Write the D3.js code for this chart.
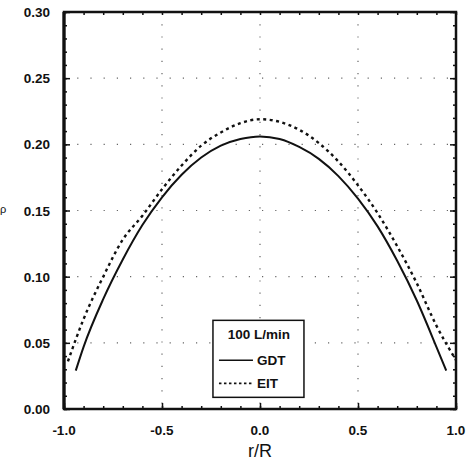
<!DOCTYPE html>
<meta charset="utf-8">
<head>
<style>
  body { margin: 0; background: #fff; }
  text { font-family: "Liberation Sans", Arial, sans-serif; fill: #111; }
  .tick-label { font-size: 13.5px; font-weight: bold; }
  .legend-text { font-size: 13.5px; font-weight: bold; }
</style>
</head>
<script src="https://d3js.org/d3.v7.min.js"></script>
<div id="chart"></div>
<script>
// tick values
var xTicks = [-1.0, -0.5, 0.0, 0.5, 1.0];
var yTicks = [0.00, 0.05, 0.10, 0.15, 0.20, 0.25, 0.30];

// GDT (solid)
var gdtR = [-0.94, -0.9, -0.8, -0.7, -0.6, -0.5, -0.4, -0.3, -0.2, -0.1, 0.0, 0.1, 0.2, 0.3, 0.4, 0.5, 0.6, 0.7, 0.8, 0.9, 0.95];
var gdtV = [0.029, 0.047, 0.083, 0.113, 0.139, 0.160, 0.177, 0.190, 0.199, 0.204, 0.206, 0.204, 0.198, 0.189, 0.176, 0.159, 0.138, 0.112, 0.082, 0.047, 0.029];

// EIT (dotted)
var eitR = [-0.98, -0.9, -0.8, -0.7, -0.6, -0.5, -0.4, -0.3, -0.2, -0.1, 0.0, 0.1, 0.2, 0.3, 0.4, 0.5, 0.6, 0.7, 0.8, 0.9, 1.0];
var eitV = [0.036, 0.068, 0.100, 0.128, 0.146, 0.166, 0.184, 0.199, 0.209, 0.216, 0.219, 0.217, 0.211, 0.201, 0.187, 0.169, 0.148, 0.123, 0.095, 0.063, 0.037];

var W = 472, H = 466;
var margin = {top: 12, right: 16, bottom: 57, left: 64};
var width = W - margin.left - margin.right,
    height = H - margin.top - margin.bottom;

var svg = d3.select("#chart").append("svg")
    .attr("width", W).attr("height", H)
  .append("g")
    .attr("transform", "translate(" + margin.left + "," + margin.top + ")");

var x = d3.scaleLinear().domain([-1, 1]).range([0, width]);
var y = d3.scaleLinear().domain([0, 0.30]).range([height, 0]);

// dotted grid at major ticks
svg.append("g").selectAll("line.gx")
  .data(xTicks.slice(1, -1)).enter().append("line")
    .attr("x1", d => x(d)).attr("x2", d => x(d))
    .attr("y1", 0).attr("y2", height)
    .attr("stroke", "#666").attr("stroke-width", 1.2)
    .attr("stroke-dasharray", "1.2,11");
svg.append("g").selectAll("line.gy")
  .data(yTicks.slice(1, -1)).enter().append("line")
    .attr("y1", d => y(d)).attr("y2", d => y(d))
    .attr("x1", 0).attr("x2", width)
    .attr("stroke", "#666").attr("stroke-width", 1.2)
    .attr("stroke-dasharray", "1.2,12");

// inward ticks on all four sides
var xMinor = d3.range(-1, 1.0001, 0.1);
var yMinor = d3.range(0, 0.3001, 0.01);
svg.append("g").attr("transform", "translate(0," + height + ")")
  .call(d3.axisBottom(x).tickValues(xMinor).tickSize(-3).tickFormat(""));
svg.append("g")
  .call(d3.axisTop(x).tickValues(xMinor).tickSize(-3).tickFormat(""));
svg.append("g")
  .call(d3.axisLeft(y).tickValues(yMinor).tickSize(-3).tickFormat(""));
svg.append("g").attr("transform", "translate(" + width + ",0)")
  .call(d3.axisRight(y).tickValues(yMinor).tickSize(-3).tickFormat(""));

svg.append("g").attr("transform", "translate(0," + height + ")")
  .call(d3.axisBottom(x).tickValues(xTicks).tickSize(-6).tickFormat(""));
svg.append("g")
  .call(d3.axisLeft(y).tickValues(yTicks).tickSize(-6).tickFormat(""));
svg.append("g").attr("transform", "translate(" + width + ",0)")
  .call(d3.axisRight(y).tickValues(yTicks).tickSize(-6).tickFormat(""));

svg.selectAll(".domain").remove();
svg.selectAll(".tick line").attr("stroke", "#111").attr("stroke-width", 1.5);

// frame
svg.append("rect")
  .attr("width", width).attr("height", height)
  .attr("fill", "none").attr("stroke", "#111").attr("stroke-width", 2.5);
svg.append("line")
  .attr("x1", 0).attr("x2", 0).attr("y1", 0).attr("y2", height)
  .attr("stroke", "#111").attr("stroke-width", 3.2);

// tick labels
svg.append("g").selectAll("text")
  .data(yTicks).enter().append("text")
    .attr("class", "tick-label")
    .attr("x", -14).attr("y", d => y(d) + 5)
    .attr("text-anchor", "end")
    .text(d => d.toFixed(2));
svg.append("g").selectAll("text")
  .data(xTicks).enter().append("text")
    .attr("class", "tick-label")
    .attr("x", d => x(d)).attr("y", height + 26)
    .attr("text-anchor", "middle")
    .text(d => d.toFixed(1));

// axis titles
svg.append("text")
  .attr("x", x(0)).attr("y", height + 48)
  .attr("text-anchor", "middle")
  .style("font-size", "18px")
  .text("r/R");
svg.append("text")
  .attr("x", -margin.left).attr("y", y(0.148))
  .style("font-size", "11px")
  .text("ρ");

// curves
var line = d3.line().curve(d3.curveMonotoneX);
svg.append("path")
  .attr("d", line(gdtR.map((r, i) => [x(r), y(gdtV[i])])))
  .attr("fill", "none").attr("stroke", "#111").attr("stroke-width", 2);
svg.append("path")
  .attr("d", line(eitR.map((r, i) => [x(r), y(eitV[i])])))
  .attr("fill", "none").attr("stroke", "#111").attr("stroke-width", 2.4)
  .attr("stroke-dasharray", "3,3.5");

// legend
var lg = svg.append("g").attr("transform", "translate(" + (x(-0.24)) + "," + y(0.067) + ")");
lg.append("rect").attr("width", 91).attr("height", 77)
  .attr("fill", "#fff").attr("stroke", "#111").attr("stroke-width", 1.5);
lg.append("text").attr("class", "legend-text")
  .attr("x", 46).attr("y", 19).attr("text-anchor", "middle").text("100 L/min");
lg.append("line").attr("x1", 6).attr("x2", 40).attr("y1", 40).attr("y2", 40)
  .attr("stroke", "#111").attr("stroke-width", 1.5);
lg.append("text").attr("class", "legend-text")
  .attr("x", 44).attr("y", 45).text("GDT");
lg.append("line").attr("x1", 6).attr("x2", 40).attr("y1", 63).attr("y2", 63)
  .attr("stroke", "#111").attr("stroke-width", 1.8).attr("stroke-dasharray", "2.5,2.5");
lg.append("text").attr("class", "legend-text")
  .attr("x", 44).attr("y", 68).text("EIT");
</script>
